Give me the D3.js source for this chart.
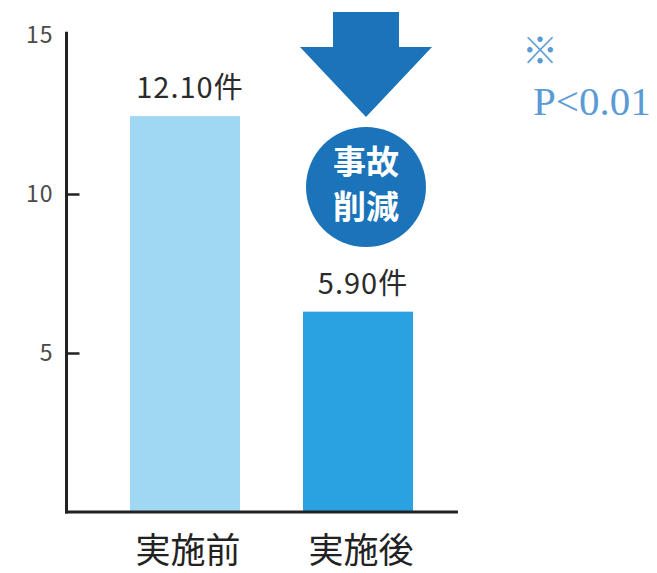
<!DOCTYPE html>
<html>
<head>
<meta charset="utf-8">
<script src="https://cdn.jsdelivr.net/npm/d3@7"></script>
<style>
  body { margin: 0; background: #fff; }
  text { font-family: "Noto Sans CJK JP", "Noto Sans", sans-serif; }
</style>
</head>
<body>
<div id="chart"></div>
<script>
// data
var categories = ["実施前", "実施後"];
var barValues = [12.45, 6.3];          // bar heights as drawn
var barLabels = ["12.10件", "5.90件"];
var barColors = ["#a0d8f4", "#2aa1e0"];
var yTicks = [5, 10, 15];

var svgWidth = 657;
var svgHeight = 573;

var svg = d3.select("#chart")
  .append("svg")
  .attr("width", svgWidth)
  .attr("height", svgHeight);

var axisX = 66.5;
var baseY = 512;

// scales
var yScale = d3.scaleLinear()
  .domain([0, 15])
  .range([baseY, 35]);

var xScale = d3.scaleBand()
  .domain(categories)
  .range([95.4, 447.6])
  .paddingInner(0.364)
  .paddingOuter(0.2);

// bars
svg.selectAll("rect.bar")
  .data(barValues)
  .enter()
  .append("rect")
  .attr("class", "bar")
  .attr("x", (d, i) => xScale(categories[i]))
  .attr("width", xScale.bandwidth())
  .attr("y", d => yScale(d))
  .attr("height", d => baseY - yScale(d))
  .style("fill", (d, i) => barColors[i]);

// value labels
svg.selectAll("text.val")
  .data(barValues)
  .enter()
  .append("text")
  .attr("class", "val")
  .attr("x", (d, i) => xScale(categories[i]) + xScale.bandwidth() / 2 + 5)
  .attr("y", d => yScale(d) - 18)
  .attr("text-anchor", "middle")
  .style("font-size", "29px")
  .style("letter-spacing", "1px")
  .style("fill", "#2b2b2b")
  .text((d, i) => barLabels[i]);

// y axis, ticks pointing inward
var yAxis = d3.axisLeft(yScale)
  .tickValues(yTicks)
  .tickSizeInner(-13)
  .tickSizeOuter(0)
  .tickPadding(13);

var yg = svg.append("g")
  .attr("transform", `translate(${axisX}, 0)`)
  .call(yAxis);
yg.select(".domain").remove();
yg.selectAll(".tick line")
  .attr("stroke", "#222")
  .attr("stroke-width", 2.5)
  .filter(d => d === 15).remove();
yg.selectAll(".tick text")
  .style("font-size", "23px")
  .style("letter-spacing", "1px")
  .style("font-family", "'Noto Sans CJK JP', sans-serif")
  .attr("fill", "#4a4a4a");

// axis lines
svg.append("line")
  .attr("x1", axisX).attr("x2", axisX)
  .attr("y1", yScale(15.1)).attr("y2", baseY + 1.5)
  .attr("stroke", "#222").attr("stroke-width", 3);
svg.append("line")
  .attr("x1", axisX - 1.5).attr("x2", 458)
  .attr("y1", baseY).attr("y2", baseY)
  .attr("stroke", "#222").attr("stroke-width", 3);

// category labels
svg.selectAll("text.cat")
  .data(categories)
  .enter()
  .append("text")
  .attr("class", "cat")
  .attr("x", d => xScale(d) + xScale.bandwidth() / 2 + 3)
  .attr("y", 563)
  .attr("text-anchor", "middle")
  .style("font-size", "35px")
  .style("fill", "#222")
  .text(d => d);

// down arrow above second bar
var cx = xScale(categories[1]) + xScale.bandwidth() / 2 + 8;
svg.append("path")
  .attr("d", `M${cx - 33},12 L${cx + 33},12 L${cx + 33},47 L${cx + 66},47 L${cx},117 L${cx - 66},47 L${cx - 33},47 Z`)
  .style("fill", "#1b74ba");

// badge
svg.append("circle")
  .attr("cx", cx)
  .attr("cy", 187)
  .attr("r", 60)
  .style("fill", "#1b74ba");
svg.append("text")
  .attr("x", cx).attr("y", 174)
  .attr("text-anchor", "middle")
  .style("font-size", "33px").style("font-weight", "bold")
  .style("fill", "#fff")
  .text("事故");
svg.append("text")
  .attr("x", cx).attr("y", 219)
  .attr("text-anchor", "middle")
  .style("font-size", "33px").style("font-weight", "bold")
  .style("fill", "#fff")
  .text("削減");

// significance note
svg.append("text")
  .attr("x", 522).attr("y", 64)
  .style("font-size", "36px").style("font-weight", "bold")
  .style("fill", "#5b9bd5")
  .text("※");
svg.append("text")
  .attr("x", 533).attr("y", 115)
  .style("font-family", "'Liberation Serif', 'DejaVu Serif', serif")
  .style("font-size", "41px")
  .style("fill", "#5b9bd5")
  .text("P<0.01");
</script>
</body>
</html>
